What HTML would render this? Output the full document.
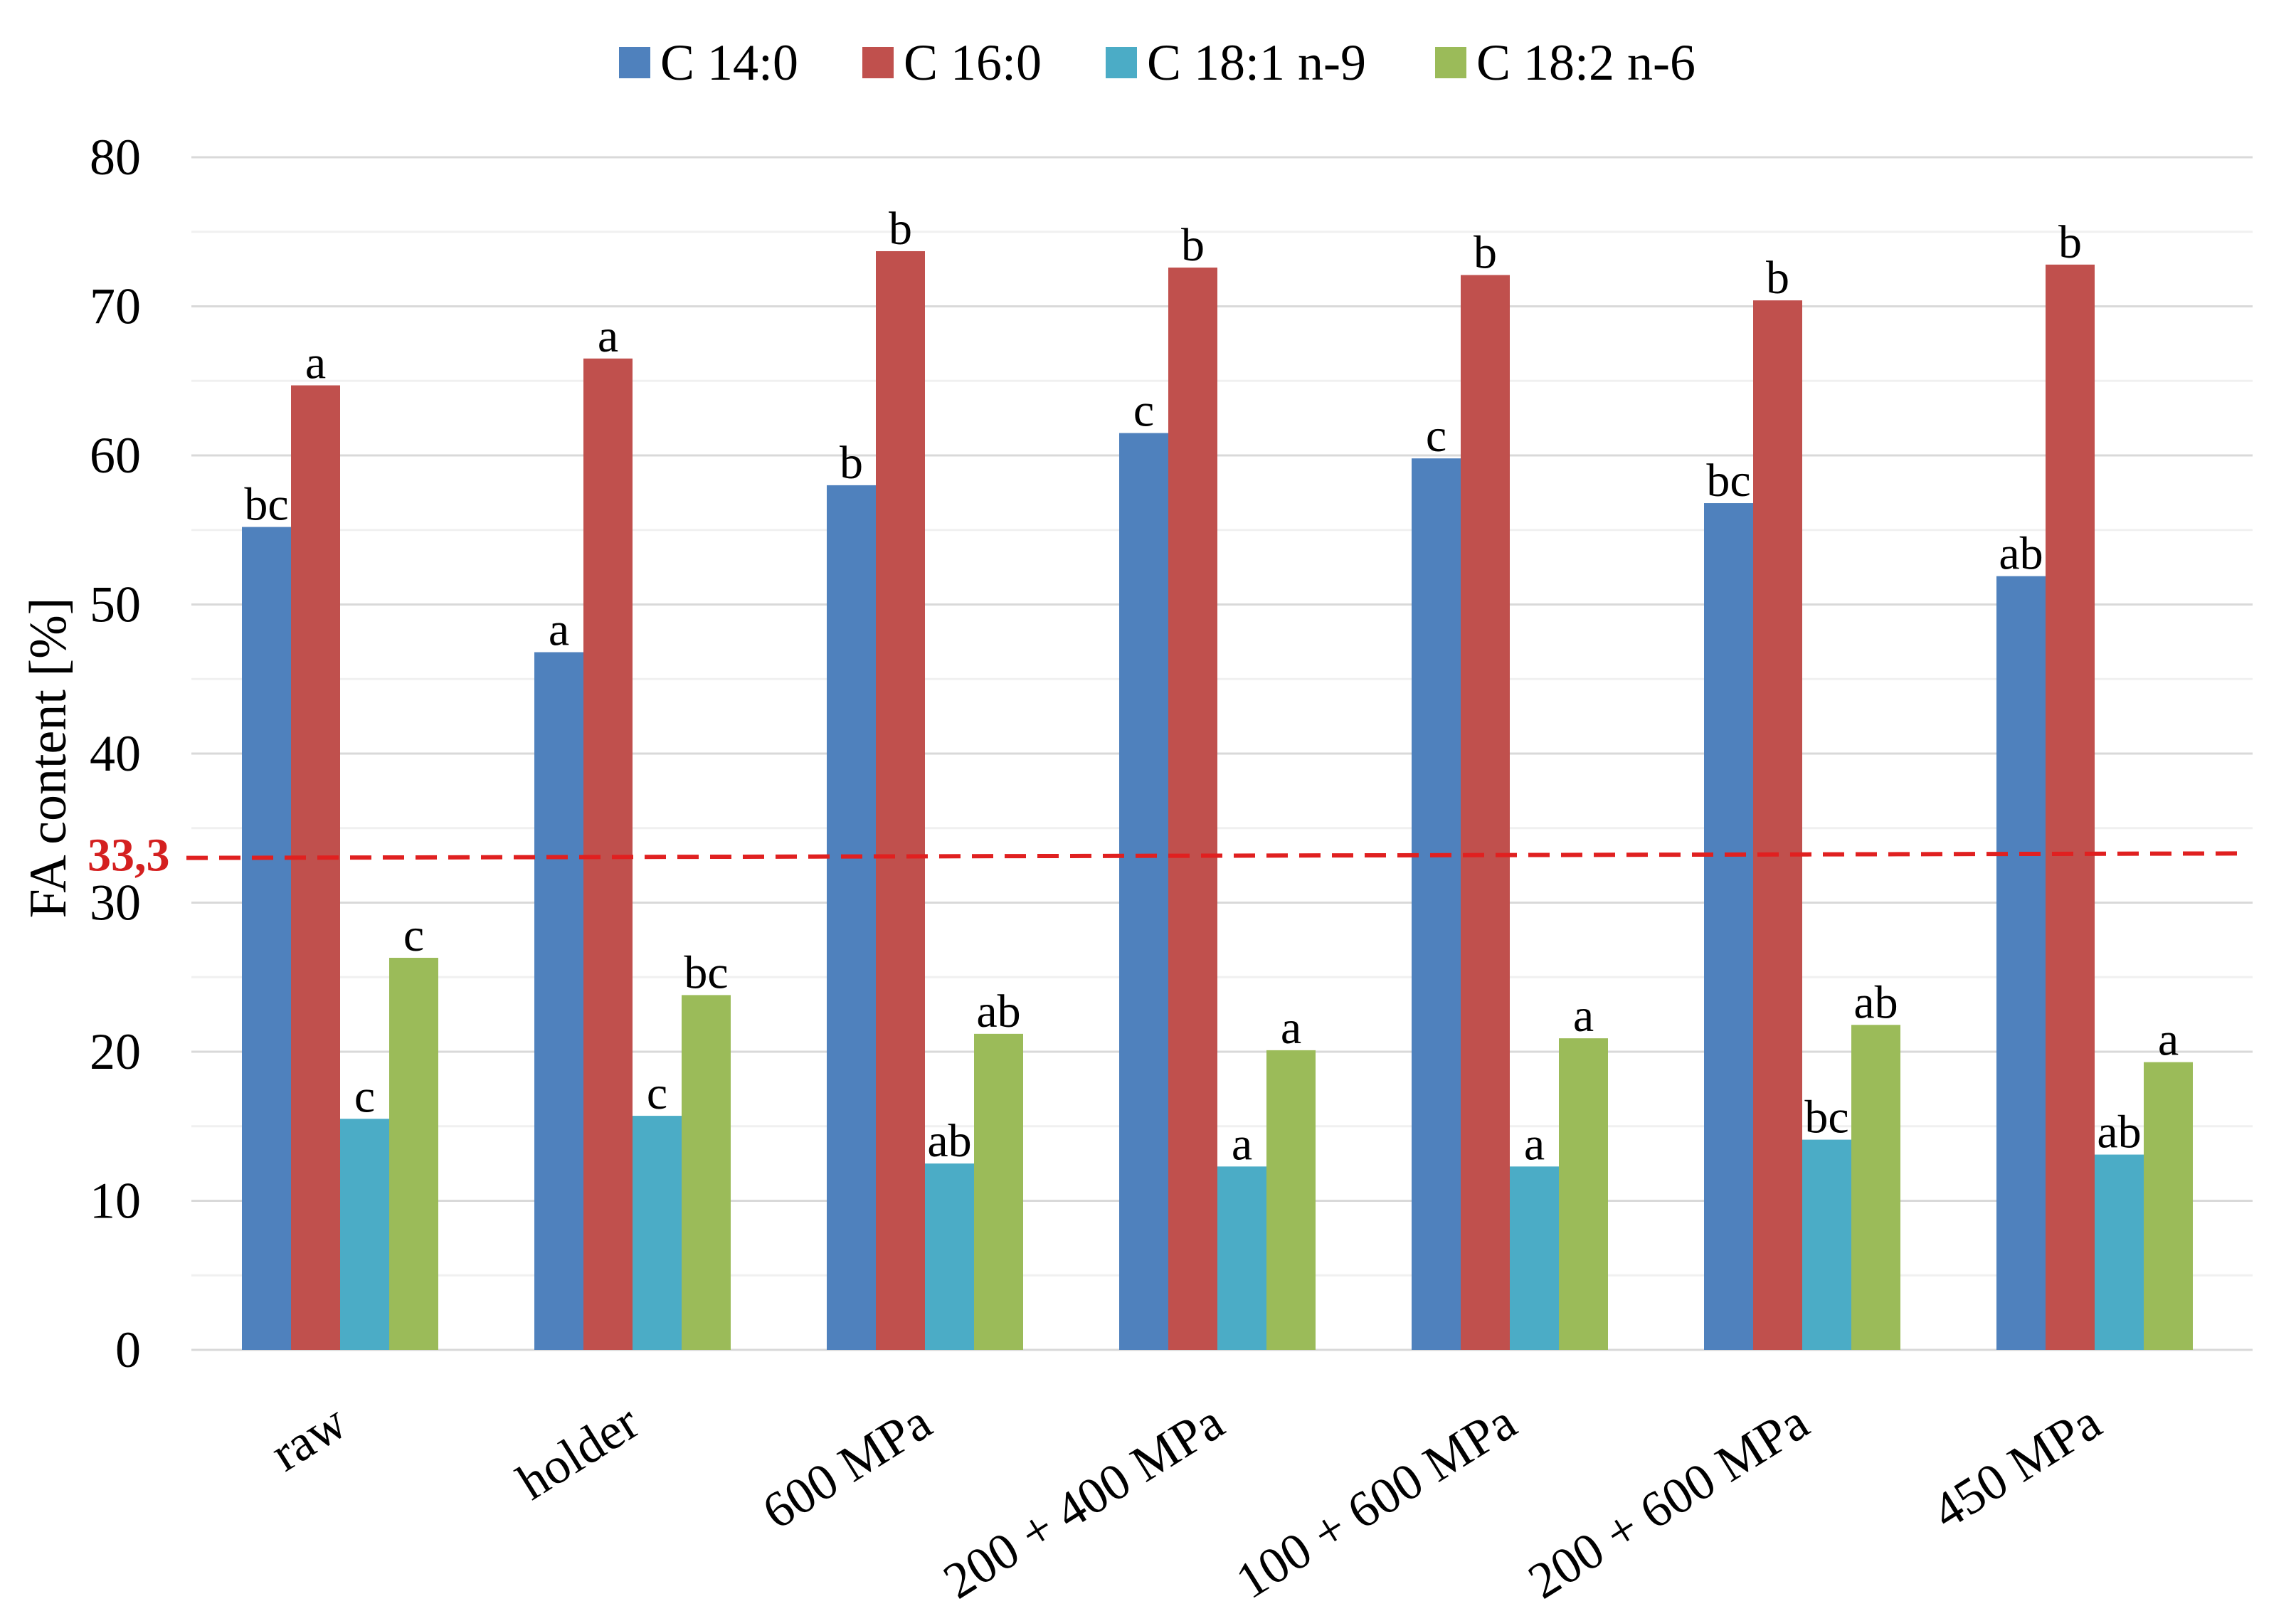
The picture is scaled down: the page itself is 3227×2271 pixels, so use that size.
<!DOCTYPE html>
<html><head><meta charset="utf-8"><style>
html,body{margin:0;padding:0;background:#fff;}
svg{display:block;font-family:"Liberation Serif",serif;}
</style></head><body>
<svg width="3227" height="2271" viewBox="0 0 3227 2271" xmlns="http://www.w3.org/2000/svg">
<g id="grid"></g>
<g id="yticks"></g>
<g id="bars"></g>
<g id="letters"></g>
<g id="xlabels"></g>
<g id="refline"></g>
<text transform="translate(92,1065) rotate(-90)" text-anchor="middle" font-size="74" fill="#000">FA content  [%]</text>
<g id="legend"></g>
</svg>
<script>
const categories = ["raw","holder","600 MPa","200 + 400 MPa","100 + 600 MPa","200 + 600 MPa","450 MPa"];
const seriesNames = ["C 14:0","C 16:0","C 18:1 n-9","C 18:2 n-6"];
const c14 = [55.2,46.8,58.0,61.5,59.8,56.8,51.9];
const c16 = [64.7,66.5,73.7,72.6,72.1,70.4,72.8];
const c181 = [15.5,15.7,12.5,12.3,12.3,14.1,13.1];
const c182 = [26.3,23.8,21.2,20.1,20.9,21.8,19.3];
const l14 = ["bc","a","b","c","c","bc","ab"];
const l16 = ["a","a","b","b","b","b","b"];
const l181 = ["c","c","ab","a","a","bc","ab"];
const l182 = ["c","bc","ab","a","a","ab","a"];
const yTicks = [0,10,20,30,40,50,60,70,80];
const refValue = 33.3;
const refLabel = "33,3";

const colors = ["#4f81bd","#c0504d","#4bacc6","#9bbb59"];
const series = [c14,c16,c181,c182];
const letters = [l14,l16,l181,l182];
const NS = "http://www.w3.org/2000/svg";
const x0 = 269, x1 = 3166, yBase = 1897, yTop = 221, yMax = 80;
const y = v => yBase - (v / yMax) * (yBase - yTop);
const groupStep = 411, firstCenter = 478, barW = 69;
const cx = i => firstCenter + i * groupStep;
function mk(tag, attrs, parent){const e=document.createElementNS(NS,tag);for(const k in attrs)e.setAttribute(k,attrs[k]);parent.appendChild(e);return e;}

const grid = document.getElementById('grid');
for (let v = 0; v <= yMax; v += 5) {
  const ln = mk('line',{x1:x0,x2:x1,y1:y(v),y2:y(v),stroke:(v%10===0)?'#d9d9d9':'#f0f0f0','stroke-width':3},grid);
  
  
}
const yt = document.getElementById('yticks');
yTicks.forEach(v=>{
  const t = mk('text',{x:198,y:y(v)+24,'text-anchor':'end','font-size':72,fill:'#000'},yt);
  t.textContent = v;
  
  
});
const bars = document.getElementById('bars');
const lg = document.getElementById('letters');
categories.forEach((c,i)=>{
  series.forEach((s,j)=>{
    const bx = cx(i) - 2*barW + j*barW;
    const r = mk('rect',{x:bx,y:y(s[i]),width:barW,height:yBase-y(s[i]),fill:colors[j]},bars);
    
    
    const t = mk('text',{x:bx+barW/2,y:y(s[i])-10,'text-anchor':'middle','font-size':66,fill:'#000'},lg);
    t.textContent = letters[j][i];
    
    
  });
});
const xl = document.getElementById('xlabels');
categories.forEach((c,i)=>{
  const ax = cx(i)+14, ay = 2012;
  const t = mk('text',{x:ax,y:ay,'text-anchor':'end','font-size':72,fill:'#000',transform:`rotate(-32 ${ax} ${ay})`},xl);
  t.textContent = c;
  
  
});
const rl = document.getElementById('refline');
const dl = mk('line',{x1:262,x2:3150,y1:y(refValue-0.3),y2:y(refValue),stroke:'#e02020','stroke-width':6,'stroke-dasharray':'30 16'},rl);


const rt = mk('text',{x:123,y:y(refValue)+24,'font-size':66,'font-weight':'bold',fill:'#d42020'},rl);
rt.textContent = refLabel;



const leg = document.getElementById('legend');
const legX = [870,1212,1554,2017];
seriesNames.forEach((n,j)=>{
  const g = mk('g',{},leg);
  
  
  mk('rect',{x:legX[j],y:66,width:44,height:44,fill:colors[j]},g);
  const t = mk('text',{x:legX[j]+58,y:112,'font-size':72,fill:'#000'},g);
  t.textContent = n;
});
</script>
</body></html>
